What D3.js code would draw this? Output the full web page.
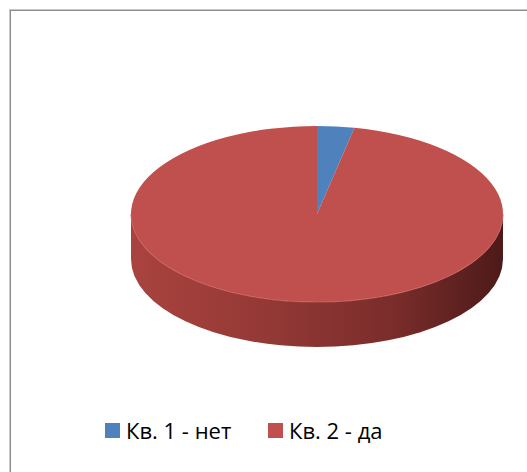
<!DOCTYPE html>
<html>
<head>
<meta charset="utf-8">
<script src="https://cdn.jsdelivr.net/npm/d3@7"></script>
<style>
  html, body { margin: 0; padding: 0; background: #fff; }
  svg { display: block; }
</style>
</head>
<body>
<svg id="chart" width="527" height="472"></svg>
<script>
const categories = ["Кв. 1 - нет", "Кв. 2 - да"];
const values = [1, 30];
const colors = ["#4F81BD", "#C0504D"];

(function () {
const svg = d3.select("#chart");

// frame
svg.append("rect").attr("x", 9.5).attr("y", 9.5).attr("width", 540).attr("height", 490)
  .attr("fill", "none").attr("stroke", "#c8c8c8").attr("stroke-width", 1);
svg.append("rect").attr("x", 10.5).attr("y", 10.5).attr("width", 540).attr("height", 490)
  .attr("fill", "none").attr("stroke", "#8c8c8c").attr("stroke-width", 1);

const cx = 317, cy = 214, rx = 186, ry = 88, depth = 45;

const pieData = d3.pie().sort(null).value(d => d)(values);

const defs = svg.append("defs");
const grad = defs.append("linearGradient").attr("id", "wallRed")
  .attr("gradientUnits", "userSpaceOnUse")
  .attr("x1", cx - rx).attr("x2", cx + rx).attr("y1", 0).attr("y2", 0);
grad.append("stop").attr("offset", "0%").attr("stop-color", "#a9433f");
grad.append("stop").attr("offset", "35%").attr("stop-color", "#953936");
grad.append("stop").attr("offset", "70%").attr("stop-color", "#7a2d2b");
grad.append("stop").attr("offset", "100%").attr("stop-color", "#4d1a19");

const P = a => [cx + rx * Math.sin(a), cy - ry * Math.cos(a)];

// walls (front half only)
pieData.forEach((d, i) => {
  const a0 = Math.max(d.startAngle, Math.PI / 2);
  const a1 = Math.min(d.endAngle, 3 * Math.PI / 2);
  if (a1 <= a0) return;
  const p0 = P(a0), p1 = P(a1);
  const large = (a1 - a0) > Math.PI ? 1 : 0;
  const path = `M${p0[0]},${p0[1]} A${rx},${ry} 0 ${large} 1 ${p1[0]},${p1[1]}` +
    ` L${p1[0]},${p1[1] + depth} A${rx},${ry} 0 ${large} 0 ${p0[0]},${p0[1] + depth} Z`;
  svg.append("path").attr("d", path)
    .attr("fill", i === 1 ? "url(#wallRed)" : d3.color(colors[i]).darker(0.8));
});

// top faces
const arc = d3.arc().innerRadius(0).outerRadius(rx);
const topG = svg.append("g").attr("transform", `translate(${cx},${cy}) scale(1,${ry / rx})`);
topG.selectAll("path").data(pieData).join("path")
  .attr("d", arc)
  .attr("fill", (d, i) => colors[i]);

// subtle highlight along front top edge
{
  const p0 = P(Math.PI / 2), p1 = P(3 * Math.PI / 2);
  svg.append("path")
    .attr("d", `M${p0[0]},${p0[1]} A${rx},${ry} 0 0 1 ${p1[0]},${p1[1]}`)
    .attr("fill", "none").attr("stroke", "#c9605c").attr("stroke-width", 1.2).attr("opacity", 0.8);
}

// legend
const legendItems = [
  { x: 105, label: categories[0], color: colors[0] },
  { x: 268, label: categories[1], color: colors[1] }
];
const lg = svg.append("g");
legendItems.forEach(it => {
  lg.append("rect").attr("x", it.x).attr("y", 423).attr("width", 15).attr("height", 15)
    .attr("fill", it.color);
  lg.append("text").attr("x", it.x + 21).attr("y", 439)
    .attr("font-family", "'Open Sans', sans-serif").attr("font-size", 22)
    .attr("fill", "#000").text(it.label);
});
})();
</script>
</body>
</html>
